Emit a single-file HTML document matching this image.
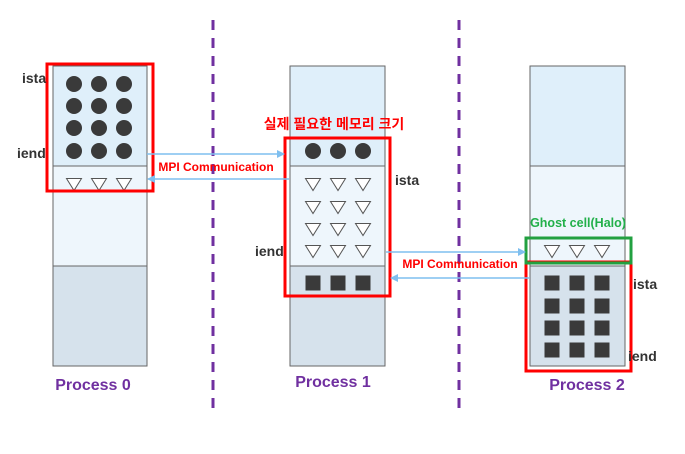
<!DOCTYPE html>
<html><head><meta charset="utf-8"><style>body{margin:0;background:#fff}</style></head><body>
<svg width="685" height="449" xmlns="http://www.w3.org/2000/svg" font-family="Liberation Sans, Noto Sans CJK KR, sans-serif">
<defs>
<marker id="ar" markerWidth="8" markerHeight="8" refX="7" refY="4" orient="auto" markerUnits="userSpaceOnUse"><path d="M0,0 L8,4 L0,8z" fill="#7fbfef"/></marker>
<g id="tri"><path d="M-7.5,-5.5 L7.5,-5.5 L0,6.5z" fill="#fff" stroke="#555" stroke-width="1"/></g>
<circle id="c" r="8" fill="#3a3a3a"/>
<rect id="s" x="-7.5" y="-7.5" width="15" height="15" fill="#3a3a3a"/>
</defs>
<g stroke="#7030a0" stroke-width="3" stroke-dasharray="10,8">
<line x1="213" y1="20" x2="213" y2="410"/><line x1="459" y1="20" x2="459" y2="410"/></g>
<g stroke="#666" stroke-width="1">
<rect x="53" y="66" width="94" height="100" fill="#dfeffa"/><rect x="53" y="166" width="94" height="100" fill="#eef6fc"/><rect x="53" y="266" width="94" height="100" fill="#d6e2ec"/>
<rect x="290" y="66" width="95" height="100" fill="#dfeffa"/><rect x="290" y="166" width="95" height="100" fill="#eef6fc"/><rect x="290" y="266" width="95" height="100" fill="#d6e2ec"/>
<rect x="530" y="66" width="95" height="100" fill="#dfeffa"/><rect x="530" y="166" width="95" height="100" fill="#eef6fc"/><rect x="530" y="266" width="95" height="100" fill="#d6e2ec"/>
</g>
<g><use href="#c" x="74" y="84"/><use href="#c" x="99" y="84"/><use href="#c" x="124" y="84"/>
<use href="#c" x="74" y="106"/><use href="#c" x="99" y="106"/><use href="#c" x="124" y="106"/>
<use href="#c" x="74" y="128"/><use href="#c" x="99" y="128"/><use href="#c" x="124" y="128"/>
<use href="#c" x="74" y="151"/><use href="#c" x="99" y="151"/><use href="#c" x="124" y="151"/>
<use href="#tri" x="74" y="184"/><use href="#tri" x="99" y="184"/><use href="#tri" x="124" y="184"/></g>
<g><use href="#c" x="313" y="151"/><use href="#c" x="338" y="151"/><use href="#c" x="363" y="151"/>
<use href="#tri" x="313" y="184"/><use href="#tri" x="338" y="184"/><use href="#tri" x="363" y="184"/>
<use href="#tri" x="313" y="207"/><use href="#tri" x="338" y="207"/><use href="#tri" x="363" y="207"/>
<use href="#tri" x="313" y="229"/><use href="#tri" x="338" y="229"/><use href="#tri" x="363" y="229"/>
<use href="#tri" x="313" y="251"/><use href="#tri" x="338" y="251"/><use href="#tri" x="363" y="251"/>
<use href="#s" x="313" y="283"/><use href="#s" x="338" y="283"/><use href="#s" x="363" y="283"/></g>
<g><use href="#tri" x="552" y="251"/><use href="#tri" x="577" y="251"/><use href="#tri" x="602" y="251"/>
<use href="#s" x="552" y="283"/><use href="#s" x="577" y="283"/><use href="#s" x="602" y="283"/>
<use href="#s" x="552" y="306"/><use href="#s" x="577" y="306"/><use href="#s" x="602" y="306"/>
<use href="#s" x="552" y="328"/><use href="#s" x="577" y="328"/><use href="#s" x="602" y="328"/>
<use href="#s" x="552" y="350"/><use href="#s" x="577" y="350"/><use href="#s" x="602" y="350"/></g>
<g fill="none" stroke-width="3">
<rect x="47" y="64" width="106" height="127" stroke="#f00"/>
<rect x="285" y="138" width="105" height="158" stroke="#f00"/>
<rect x="526" y="262" width="105" height="109" stroke="#f00"/>
<rect x="526" y="238" width="105" height="25" stroke="#22a040"/>
</g>
<g stroke="#7fbfef" stroke-width="1.5">
<line x1="147" y1="154" x2="284" y2="154" marker-end="url(#ar)"/>
<line x1="289" y1="179" x2="148" y2="179" marker-end="url(#ar)"/>
<line x1="386" y1="252" x2="525" y2="252" marker-end="url(#ar)"/>
<line x1="530" y1="278" x2="391" y2="278" marker-end="url(#ar)"/>
</g>
<g font-weight="bold" font-size="12" fill="#f00">
<text x="216" y="171" text-anchor="middle">MPI Communication</text>
<text x="460" y="268" text-anchor="middle">MPI Communication</text>
<text x="334" y="129" text-anchor="middle" font-size="14">실제 필요한 메모리 크기</text>
</g>
<text x="578" y="227" text-anchor="middle" font-weight="bold" font-size="12.5" fill="#22b04a">Ghost cell(Halo)</text>
<g font-size="14" font-weight="bold" fill="#333">
<text x="22" y="83">ista</text><text x="17" y="158">iend</text>
<text x="395" y="185">ista</text><text x="255" y="256">iend</text>
<text x="633" y="289">ista</text><text x="628" y="361">iend</text>
</g>
<g font-size="16" font-weight="bold" fill="#7030a0" text-anchor="middle">
<text x="93" y="390">Process 0</text><text x="333" y="387">Process 1</text><text x="587" y="390">Process 2</text>
</g>
</svg>
</body></html>
